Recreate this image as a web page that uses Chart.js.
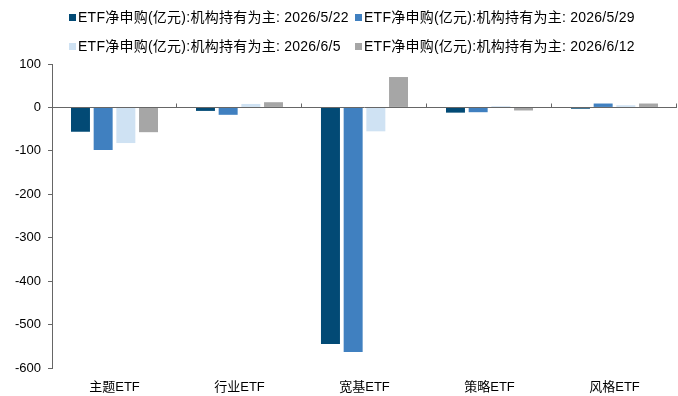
<!DOCTYPE html>
<html>
<head>
<meta charset="utf-8">
<title>ETF净申购</title>
<script src="https://cdn.jsdelivr.net/npm/chart.js@4"></script>
<style>
  body { margin: 0; background: #fff; }
  #wrap { position: relative; width: 678px; height: 396px; }
  #legend { position: absolute; left: 0; top: 0; width: 678px; height: 60px;
    font-family: "Liberation Sans", "Noto Sans CJK SC", sans-serif; font-size: 14px; color: #000; letter-spacing: 0.25px; }
  .item { position: absolute; white-space: nowrap; line-height: 16px; }
  .box { display: inline-block; width: 7px; height: 7px; margin-right: 2px; vertical-align: 1px; }
</style>
</head>
<body>
<div id="wrap">
  <canvas id="myChart" width="678" height="396"></canvas>
  <div id="legend"></div>
</div>
<script>
// data
var categories = ['主题ETF', '行业ETF', '宽基ETF', '策略ETF', '风格ETF'];
var seriesNames = [
  'ETF净申购(亿元):机构持有为主: 2026/5/22',
  'ETF净申购(亿元):机构持有为主: 2026/5/29',
  'ETF净申购(亿元):机构持有为主: 2026/6/5',
  'ETF净申购(亿元):机构持有为主: 2026/6/12'
];
var may22 = [-56, -8, -545, -12, -3];
var may29 = [-98, -17, -563, -11, 9];
var jun5 = [-82, 8, -55, 3, 5];
var jun12 = [-57, 12, 70, -7, 9];
var yTicks = [100, 0, -100, -200, -300, -400, -500, -600];

var colors = ['#024a75', '#4080c0', '#cfe2f3', '#a6a6a6'];
var values = [may22, may29, jun5, jun12];

// legend laid out in two columns like the original
var legendPos = [[69, 9], [355, 9], [69, 38], [355, 38]];
var legendEl = document.getElementById('legend');
seriesNames.forEach(function (name, i) {
  var d = document.createElement('div');
  d.className = 'item';
  d.style.left = legendPos[i][0] + 'px';
  d.style.top = legendPos[i][1] + 'px';
  d.innerHTML = '<span class="box" style="background:' + colors[i] + '"></span>' + name;
  legendEl.appendChild(d);
});

// zero line category ticks
var boundaryTicks = {
  id: 'boundaryTicks',
  afterDatasetsDraw: function (chart) {
    var x = chart.scales.x, y = chart.scales.y, ctx = chart.ctx;
    var y0 = Math.round(y.getPixelForValue(0)) + 0.5;
    ctx.save();
    ctx.strokeStyle = '#666';
    ctx.lineWidth = 1;
    ctx.beginPath();
    ctx.moveTo(chart.chartArea.left, y0);
    ctx.lineTo(chart.chartArea.right, y0);
    for (var i = 0; i < categories.length; i++) {
      var px = Math.round(x.getPixelForValue(i + 0.5)) - 0.5;
      ctx.moveTo(px, y0);
      ctx.lineTo(px, y0 - 4);
    }
    ctx.stroke();
    ctx.restore();
  }
};

var ctx = document.getElementById('myChart').getContext('2d');
var myChart = new Chart(ctx, {
  type: 'bar',
  data: {
    labels: categories,
    datasets: seriesNames.map(function (n, i) {
      return {
        label: n,
        data: values[i],
        backgroundColor: colors[i],
        borderWidth: 0,
        categoryPercentage: 0.726,
        barPercentage: 0.837
      };
    })
  },
  options: {
    responsive: false,
    animation: false,
    layout: { padding: { top: 64, right: 1, left: 0, bottom: 0 } },
    plugins: { legend: { display: false }, tooltip: { enabled: false } },
    scales: {
      x: {
        grid: { display: false },
        border: { display: false },
        ticks: { color: '#000', padding: 4, font: { family: '"Liberation Sans", "Noto Sans CJK SC"', size: 13 } },
        afterFit: function (s) { s.height = 28; }
      },
      y: {
        min: -600,
        max: 100,
        afterBuildTicks: function (s) { s.ticks = yTicks.map(function (v) { return { value: v }; }); },
        grid: { drawOnChartArea: false, tickLength: 4, color: '#666', tickColor: '#666' },
        border: { color: '#666' },
        ticks: { color: '#000', padding: 7, font: { family: '"Liberation Sans", "Noto Sans CJK SC"', size: 13 } },
        afterFit: function (s) { s.width = 52; }
      }
    }
  },
  plugins: [boundaryTicks]
});
</script>
</body>
</html>
